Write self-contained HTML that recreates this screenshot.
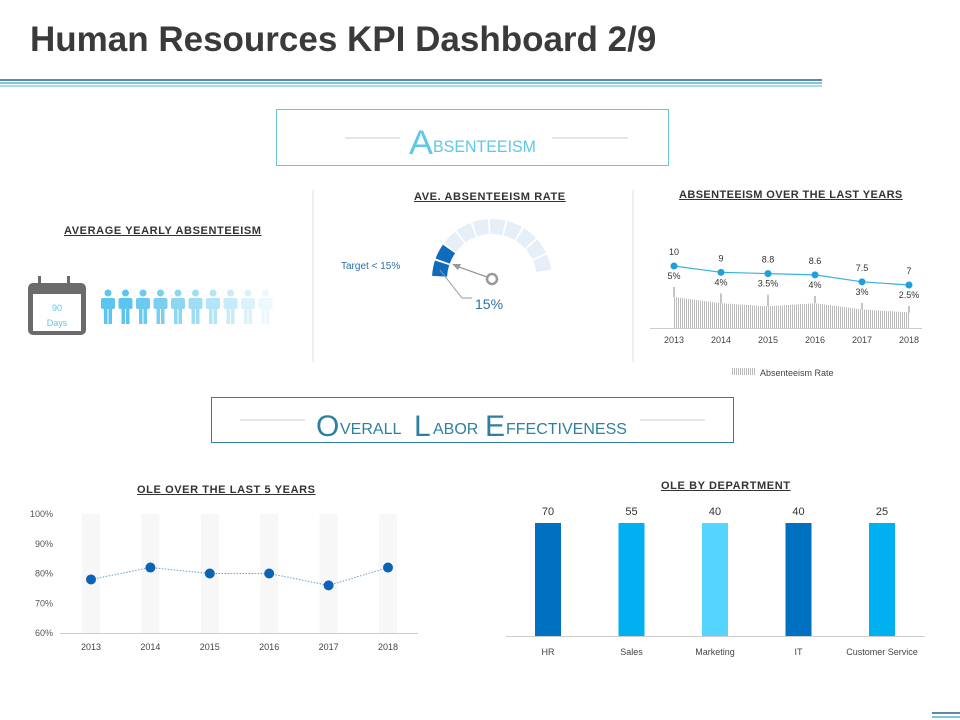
<!DOCTYPE html>
<html><head><meta charset="utf-8"><style>
body{margin:0;width:960px;height:720px;background:#fff;font-family:"Liberation Sans",sans-serif;overflow:hidden;position:relative}
.t{position:absolute;white-space:nowrap}
.h{font-weight:bold;font-size:11px;color:#333;text-decoration:underline;letter-spacing:0.6px}
</style></head><body>
<div class="t" style="left:30px;top:20px;font-size:35px;font-weight:bold;color:#3a3a3a">Human Resources KPI Dashboard 2/9</div>
<svg width="960" height="720" style="position:absolute;left:0;top:0">
<g>
<line x1="0" y1="80" x2="822" y2="80" stroke="#2e5f8a" stroke-width="1.5"/>
<line x1="0" y1="83" x2="822" y2="83" stroke="#4fb8c8" stroke-width="1.5"/>
<line x1="0" y1="86" x2="822" y2="86" stroke="#4fb8c8" stroke-width="1"/>
<line x1="932" y1="713" x2="960" y2="713" stroke="#2e5f8a" stroke-width="1.5"/>
<line x1="932" y1="717" x2="960" y2="717" stroke="#4fb8c8" stroke-width="1.5"/>
</g>
<rect x="276.5" y="109.5" width="392" height="56" fill="none" stroke="#6cc5d5"/>
<line x1="345" y1="138" x2="400" y2="138" stroke="#ccc"/><line x1="552" y1="138" x2="628" y2="138" stroke="#ccc"/>
<text x="409" y="154" fill="#5cc8e6" font-size="34" font-family="Liberation Sans" textLength="24" lengthAdjust="spacingAndGlyphs">A</text>
<text x="433" y="152" fill="#5cc8e6" font-size="17" font-family="Liberation Sans" textLength="103" lengthAdjust="spacingAndGlyphs">BSENTEEISM</text>
<rect x="211.5" y="397.5" width="522" height="45" fill="none" stroke="#2e7fa0"/>
<line x1="240" y1="420" x2="305" y2="420" stroke="#ccc"/><line x1="640" y1="420" x2="705" y2="420" stroke="#ccc"/>
<text x="316" y="436" fill="#2e7fa0" font-size="30">O</text><text x="340" y="434" fill="#2e7fa0" font-size="16">VERALL</text>
<text x="414" y="436" fill="#2e7fa0" font-size="30">L</text><text x="433" y="434" fill="#2e7fa0" font-size="16">ABOR</text>
<text x="485" y="436" fill="#2e7fa0" font-size="30">E</text><text x="506" y="434" fill="#2e7fa0" font-size="16">FFECTIVENESS</text>
<line x1="313" y1="190" x2="313" y2="362" stroke="#ddd"/>
<line x1="633" y1="190" x2="633" y2="362" stroke="#ddd"/>
<g>
<rect x="28" y="283" width="58" height="52" rx="5" fill="#6b6b6b"/>
<rect x="33" y="294" width="48" height="37" fill="#fff"/>
<rect x="38" y="276" width="3" height="9" fill="#6b6b6b"/><rect x="67" y="276" width="3" height="9" fill="#6b6b6b"/>
<text x="57" y="311" text-anchor="middle" fill="#5bc4e8" font-size="9">90</text>
<text x="57" y="326" text-anchor="middle" fill="#5bc4e8" font-size="9">Days</text>
</g>
<g id="people"></g>
<g id="gauge"></g>
<circle cx="492" cy="279" r="5" fill="none" stroke="#999" stroke-width="2.5"/>
<line x1="487" y1="277" x2="456" y2="266" stroke="#999" stroke-width="1.2"/>
<polygon points="452,264 461,264 458,270" fill="#999"/>
<polyline points="440,270 462,298 472,298" fill="none" stroke="#999"/>
<text x="475" y="309" fill="#2e6fa8" font-size="14">15%</text>
<text x="341" y="269" fill="#2e6fa8" font-size="10">Target &lt; 15%</text>
<g id="absChart"></g>
<g id="oleChart"></g>
<g id="deptChart"></g>
</svg>
<div class="t h" style="left:64px;top:225px">AVERAGE YEARLY ABSENTEEISM</div>
<div class="t h" style="left:414px;top:191px">AVE. ABSENTEEISM RATE</div>
<div class="t h" style="left:679px;top:189px;letter-spacing:0.4px">ABSENTEEISM OVER THE LAST  YEARS</div>
<div class="t h" style="left:137px;top:484px">OLE OVER THE LAST 5 YEARS</div>
<div class="t h" style="left:661px;top:480px">OLE BY DEPARTMENT</div>
<script>
const NS="http://www.w3.org/2000/svg";
function mk(p,t,a){const e=document.createElementNS(NS,t);for(const k in a)e.setAttribute(k,a[k]);p.appendChild(e);return e;}
function tx(p,x,y,s,sz,fill,anc){const e=mk(p,'text',{x:x,y:y,'font-size':sz,fill:fill,'text-anchor':anc||'middle'});e.textContent=s;return e;}

const absYears=["2013","2014","2015","2016","2017","2018"];
const absValues=[10,9,8.8,8.6,7.5,7];
const absRates=[5,4,3.5,4,3,2.5];
const absRateLabels=["5%","4%","3.5%","4%","3%","2.5%"];
const oleYears=["2013","2014","2015","2016","2017","2018"];
const oleValues=[78,82,80,80,76,82];
const oleTicks=[60,70,80,90,100];
const depts=["HR","Sales","Marketing","IT","Customer Service"];
const deptValues=[70,55,40,40,25];
const deptFill=[100,100,100,100,100];
const gaugeValue=15;

const pg=document.getElementById('people');
const pc=['#5bc4ef','#5bc4ef','#6ccaf0','#7acff1','#8dd6f3','#9fdcf5','#b3e4f7','#c7ebf9','#dbf2fb','#ecf8fd'];
for(let i=0;i<10;i++){const x=108+i*17.5;const g=mk(pg,'g',{});


mk(g,'circle',{cx:x,cy:293,r:3.5,fill:pc[i]});mk(g,'rect',{x:x-7,y:298,width:14,height:11,rx:2,fill:pc[i]});
mk(g,'rect',{x:x-4,y:308,width:3.5,height:16,fill:pc[i]});mk(g,'rect',{x:x+0.5,y:308,width:3.5,height:16,fill:pc[i]});}

const gg=document.getElementById('gauge');const cx=492,cy=279,r1=45,r2=60;
const nSeg=10,a0=178,a1=8,stepA=(a0-a1)/nSeg;const darkSeg=Math.round(gaugeValue/100*nSeg*1.33);
for(let i=0;i<nSeg;i++){const s=(a0-i*stepA-1)*Math.PI/180,e=(a0-(i+1)*stepA+1)*Math.PI/180;
const P=(r,a)=>[cx+r*Math.cos(a),cy-r*Math.sin(a)];const A=P(r2,s),B=P(r2,e),C=P(r1,e),D=P(r1,s);
const p=mk(gg,'path',{d:`M${A}A${r2},${r2} 0 0 1 ${B}L${C}A${r1},${r1} 0 0 0 ${D}Z`,fill:i<darkSeg?'#0f6cbd':'#e6eef7'});

}

const ag=document.getElementById('absChart');
const ax=i=>674+i*47, ayV=v=>266+(10-v)*6.33, ayR=v=>328-v*6.2;
mk(ag,'line',{x1:650,y1:328.5,x2:922,y2:328.5,stroke:'#ccc'});
let area=`M${ax(0)},328`;absRates.forEach((v,i)=>area+=`L${ax(i)},${ayR(v)}`);area+=`L${ax(5)},328Z`;
const pat=mk(ag,'pattern',{id:'hatch',width:2,height:4,patternUnits:'userSpaceOnUse'});mk(pat,'rect',{x:0,y:0,width:1,height:4,fill:'#bbb'});
const ar=mk(ag,'path',{d:area,fill:'url(#hatch)'});


absYears.forEach((y,i)=>{mk(ag,'line',{x1:ax(i),y1:ayR(absRates[i]),x2:ax(i),y2:ayV(absValues[i])+21,stroke:'#888'});
tx(ag,ax(i),343,y,9,'#444');tx(ag,ax(i),ayV(absValues[i])-11,String(absValues[i]),9,'#333');tx(ag,ax(i),ayV(absValues[i])+13,absRateLabels[i],9,'#333');});
mk(ag,'polyline',{points:absValues.map((v,i)=>ax(i)+','+ayV(v)).join(' '),fill:'none',stroke:'#3ab0de','stroke-width':1.2});
absValues.forEach((v,i)=>{const c=mk(ag,'circle',{cx:ax(i),cy:ayV(v),r:3.5,fill:'#1ea0dc'});

});
mk(ag,'rect',{x:731,y:368,width:25,height:7,fill:'url(#hatch)'});tx(ag,760,376,'Absenteeism Rate',9,'#444','start');

const og=document.getElementById('oleChart');
const ox=i=>91+i*59.4, oy=v=>633-(v-60)*2.975;
oleYears.forEach((y,i)=>{mk(og,'rect',{x:ox(i)-9,y:514,width:18,height:119,fill:'#f7f7f7'});tx(og,ox(i),650,y,9,'#444');});
mk(og,'line',{x1:60,y1:633.5,x2:418,y2:633.5,stroke:'#ccc'});
oleTicks.forEach(t=>tx(og,53,oy(t)+3,t+'%',9,'#555','end'));
mk(og,'polyline',{points:oleValues.map((v,i)=>ox(i)+','+oy(v)).join(' '),fill:'none',stroke:'#6aa0c8','stroke-dasharray':'1.5,1.5'});
oleValues.forEach((v,i)=>{const c=mk(og,'circle',{cx:ox(i),cy:oy(v),r:5,fill:'#0b63b5'});

});

const dg=document.getElementById('deptChart');
const dx=i=>548+i*83.5, dh=v=>v/100*113;
const dc=['#0070c0','#00b0f0','#55d4ff','#0070c0','#00b0f0'];
mk(dg,'line',{x1:506,y1:636.5,x2:925,y2:636.5,stroke:'#ccc'});
depts.forEach((d,i)=>{const b=mk(dg,'rect',{x:dx(i)-13,y:636-dh(deptFill[i]),width:26,height:dh(deptFill[i]),fill:dc[i]});


tx(dg,dx(i),515,String(deptValues[i]),11,'#333');tx(dg,dx(i),655,d,9,'#444');});
</script>
</body></html>
